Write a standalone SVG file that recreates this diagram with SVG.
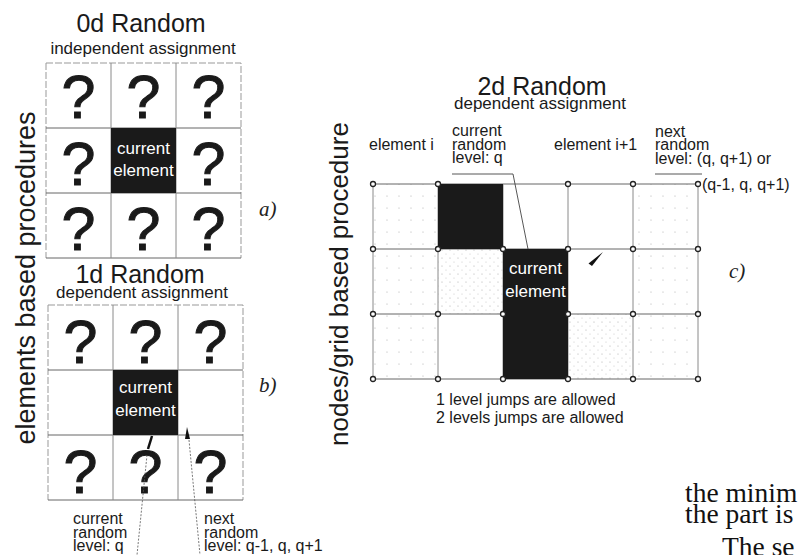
<svg xmlns="http://www.w3.org/2000/svg" width="801" height="555" viewBox="0 0 801 555">
<defs>
<pattern id="dots" width="12" height="12" patternUnits="userSpaceOnUse"><circle cx="3" cy="4" r="0.6" fill="#aaa"/></pattern>
<pattern id="dense" width="8" height="8" patternUnits="userSpaceOnUse"><circle cx="2" cy="2" r="0.6" fill="#aaa"/><circle cx="6" cy="6" r="0.5" fill="#bbb"/></pattern>
</defs>
<style>
.s{font-family:"Liberation Sans",Arial,sans-serif;fill:#1a1a1a}
.t{font-size:25px;text-anchor:middle}
.st{font-size:17px;text-anchor:middle}
.q{font-size:61px;text-anchor:middle;stroke:#1a1a1a;stroke-width:1}
.w{font-family:"Liberation Sans",Arial,sans-serif;fill:#fff;font-size:17px;text-anchor:middle}
.lab{font-size:16px}
.vl{font-size:27px;text-anchor:middle}
.it{font-family:"Liberation Serif","Times New Roman",serif;font-style:italic;font-size:21px;fill:#222}
.gh{stroke:#666;stroke-width:1;fill:none}
.gv{stroke:#8a8a8a;stroke-width:1;fill:none}
.go{stroke:#999;stroke-width:1;fill:none;stroke-dasharray:7 2}
.blk{fill:#1a1a1a}
.nd{fill:#fff;stroke:#222;stroke-width:1.3}
.ld{stroke:#555;stroke-width:0.8;fill:none;stroke-dasharray:2 1.5}
.ul{stroke:#444;stroke-width:0.9;fill:none}
.body{font-family:"Liberation Serif","Times New Roman",serif;font-size:27.5px;fill:#111}
</style>

<!-- side labels -->
<g id="label-elements">
<text class="s vl" transform="translate(35,278) rotate(-90)">elements based procedures</text>
</g>
<g id="label-nodes">
<text class="s vl" style="font-size:26px" transform="translate(348,284) rotate(-90)">nodes/grid based procedure</text>
</g>

<!-- Panel a -->
<g id="panel-a">
<text class="s t" x="141" y="32">0d Random</text>
<text class="s st" x="143" y="54">independent assignment</text>
<g id="grid-a">
<path class="go" d="M46 63H241V258M46 63V258"/>
<path class="gh" d="M46 258H241M46 128H241M46 193H241"/>
<path class="gv" d="M111 63V258M176 63V258"/>
</g>
<g id="current-a">
<rect class="blk" x="111" y="128" width="65" height="65"/>
<text class="w" x="143.5" y="154">current</text>
<text class="w" x="143.5" y="176">element</text>
</g>
<g id="q-a">
<text class="s q" x="78.5" y="118">?</text>
<text class="s q" x="143.5" y="118">?</text>
<text class="s q" x="208.5" y="118">?</text>
<text class="s q" x="78.5" y="185">?</text>
<text class="s q" x="208.5" y="185">?</text>
<text class="s q" x="78.5" y="250">?</text>
<text class="s q" x="143.5" y="250">?</text>
<text class="s q" x="208.5" y="250">?</text>
</g>
<text class="it" x="259" y="216">a)</text>
</g>

<!-- Panel b -->
<g id="panel-b">
<text class="s t" x="140" y="283">1d Random</text>
<text class="s st" x="142" y="298">dependent assignment</text>
<g id="grid-b">
<path class="go" d="M48 305H243V500M48 305V500"/>
<path class="gh" d="M48 500H243M48 370H243M48 435H243"/>
<path class="gv" d="M113 305V500M178 305V500"/>
</g>
<g id="current-b">
<rect class="blk" x="113" y="370" width="65" height="65"/>
<text class="w" x="145.5" y="393">current</text>
<text class="w" x="145.5" y="416">element</text>
</g>
<g id="q-b">
<text class="s q" x="80.5" y="363">?</text>
<text class="s q" x="145.5" y="363">?</text>
<text class="s q" x="210.5" y="363">?</text>
<text class="s q" x="80.5" y="493">?</text>
<text class="s q" x="145.5" y="493">?</text>
<text class="s q" x="210.5" y="493">?</text>
</g>
<text class="it" x="259" y="392">b)</text>
<g id="callout-b-current">
<text class="s lab" x="73" y="524">current</text>
<text class="s lab" x="73" y="538">random</text>
<text class="s lab" x="73" y="551">level: q</text>
</g>
<g id="callout-b-next">
<text class="s lab" x="204" y="524">next</text>
<text class="s lab" x="204" y="538">random</text>
<text class="s lab" x="204" y="551">level: q-1, q, q+1</text>
</g>
</g>

<!-- Panel c -->
<g id="panel-c">
<text class="s t" x="542" y="95">2d Random</text>
<text class="s st" x="540" y="109">dependent assignment</text>
<g id="stipple">
<rect x="373" y="184" width="65" height="65" fill="url(#dots)"/>
<rect x="633" y="184" width="65" height="65" fill="url(#dots)"/>
<rect x="373" y="249" width="65" height="65" fill="url(#dots)"/>
<rect x="438" y="249" width="65" height="65" fill="url(#dense)"/>
<rect x="633" y="249" width="65" height="65" fill="url(#dots)"/>
<rect x="373" y="314" width="65" height="65" fill="url(#dots)"/>
<rect x="568" y="314" width="65" height="65" fill="url(#dense)"/>
<rect x="633" y="314" width="65" height="65" fill="url(#dots)"/>
</g>
<g id="grid-c">
<path class="gh" d="M373 184H698M373 249H698M373 314H698M373 379H698"/>
<path class="gv" d="M373 184V379M438 184V379M503 184V379M568 184V379M633 184V379M698 184V379"/>
</g>
<g id="black-c1"><rect class="blk" x="438" y="184" width="65" height="65"/></g>
<g id="current-c">
<rect class="blk" x="503" y="249" width="65" height="130"/>
<text class="w" x="535.5" y="274">current</text>
<text class="w" x="535.5" y="297">element</text>
</g>
<g id="nodes-c">
<circle class="nd" cx="373" cy="184" r="2.5"/><circle class="nd" cx="438" cy="184" r="2.5"/><circle class="nd" cx="568" cy="184" r="2.5"/><circle class="nd" cx="633" cy="184" r="2.5"/><circle class="nd" cx="698" cy="184" r="2.5"/>
<circle class="nd" cx="373" cy="249" r="2.5"/><circle class="nd" cx="438" cy="249" r="2.5"/><circle class="nd" cx="503" cy="249" r="2.5"/><circle class="nd" cx="568" cy="249" r="2.5"/><circle class="nd" cx="633" cy="249" r="2.5"/><circle class="nd" cx="698" cy="249" r="2.5"/>
<circle class="nd" cx="373" cy="314" r="2.5"/><circle class="nd" cx="438" cy="314" r="2.5"/><circle class="nd" cx="503" cy="314" r="2.5"/><circle class="nd" cx="568" cy="314" r="2.5"/><circle class="nd" cx="633" cy="314" r="2.5"/><circle class="nd" cx="698" cy="314" r="2.5"/>
<circle class="nd" cx="373" cy="379" r="2.5"/><circle class="nd" cx="438" cy="379" r="2.5"/><circle class="nd" cx="503" cy="379" r="2.5"/><circle class="nd" cx="568" cy="379" r="2.5"/><circle class="nd" cx="633" cy="379" r="2.5"/><circle class="nd" cx="698" cy="379" r="2.5"/>
</g>
<text class="s lab" x="369" y="150">element i</text>
<text class="s lab" x="554" y="150">element i+1</text>
<g id="callout-c-current">
<text class="s lab" x="452" y="136">current</text>
<text class="s lab" x="452" y="150">random</text>
<text class="s lab" x="452" y="163">level: q</text>
</g>
<g id="callout-c-next">
<text class="s lab" x="655" y="137">next</text>
<text class="s lab" x="655" y="150">random</text>
<text class="s lab" x="655" y="164">level: (q, q+1) or</text>
<text class="s lab" x="702" y="190">(q-1, q, q+1)</text>
</g>
<text class="it" x="729" y="278">c)</text>
<text class="s lab" x="436" y="405">1 level jumps are allowed</text>
<text class="s lab" x="436" y="423">2 levels jumps are allowed</text>
</g>

<!-- connectors -->
<g id="connectors">
<path d="M152 436L148 449" stroke="#111" stroke-width="2.5" fill="none"/>
<path class="ld" d="M147 455L137 555"/>
<polygon points="187,427 185,439 190,439" fill="#111"/>
<path class="ld" d="M189 440L200 555"/>
<polyline class="ul" points="452,174 513,174 528,249"/>
<path class="ul" d="M655 174H702"/>
<polygon points="603,252 588.5,263.5 592,266" fill="#111"/>
</g>

<!-- body text fragment -->
<g id="body-text">
<text class="body" x="685" y="502">the minim</text>
<text class="body" x="685" y="523">the part is</text>
<text class="body" x="722" y="556">The se</text>
</g>
</svg>
